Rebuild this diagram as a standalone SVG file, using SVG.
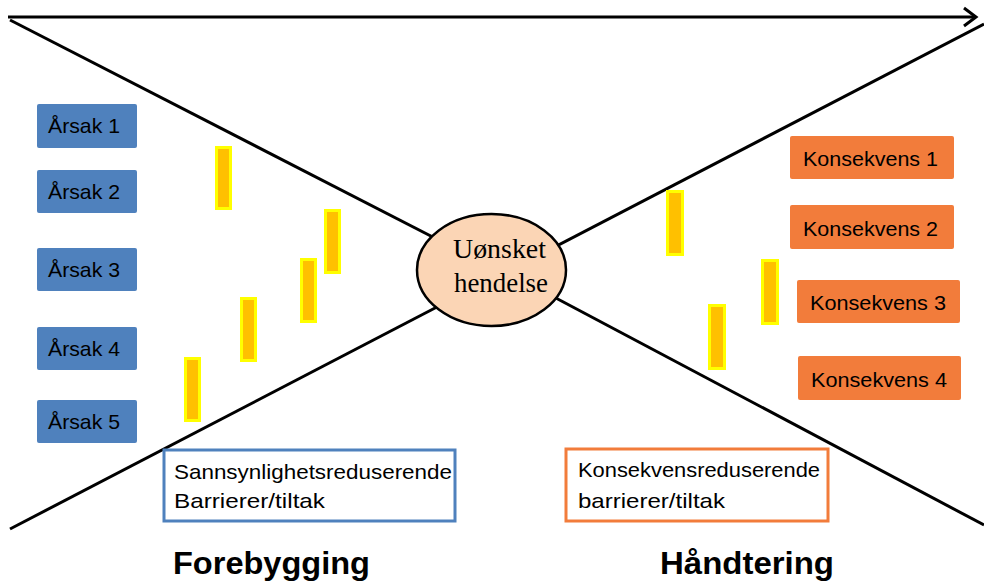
<svg xmlns="http://www.w3.org/2000/svg" width="984" height="585" viewBox="0 0 984 585">
<style>
.ln{stroke:#000;stroke-width:3;fill:none}
.cause rect{fill:#4F81BD}
.cons rect{fill:#F27C3B}
.lbl{font-family:"Liberation Sans",Arial,sans-serif;font-size:21px;fill:#000}
.bar{fill:#FFC000;stroke:#FFFF00;stroke-width:3}
.ttl{font-family:"Liberation Sans",Arial,sans-serif;font-size:31px;font-weight:bold;fill:#000}
.ell{font-family:"Liberation Serif","Times New Roman",serif;font-size:27px;fill:#000}
</style>
<rect width="984" height="585" fill="#fff"/>
<g id="connectors">
<line class="ln" x1="8" y1="17" x2="976" y2="17"/>
<polyline class="ln" points="964,8 976,17 964,26"/>
<line class="ln" x1="10" y1="20" x2="460" y2="251"/>
<line class="ln" x1="10" y1="529" x2="460" y2="295"/>
<line class="ln" x1="984" y1="24" x2="520" y2="265"/>
<line class="ln" x1="984" y1="525" x2="520" y2="279"/>
</g>
<g id="event">
<ellipse cx="491.5" cy="270" rx="74.5" ry="56" fill="#FBD5B5" stroke="#000" stroke-width="2.5"/>
<text class="ell" x="453" y="258" textLength="93" lengthAdjust="spacingAndGlyphs">Uønsket</text>
<text class="ell" x="454" y="292" textLength="94" lengthAdjust="spacingAndGlyphs">hendelse</text>
</g>
<g id="aarsak1" class="cause"><rect x="37" y="104" width="100" height="44" rx="2"/><text class="lbl" x="48" y="133" textLength="72" lengthAdjust="spacingAndGlyphs">Årsak 1</text></g>
<g id="aarsak2" class="cause"><rect x="37" y="170" width="100" height="43" rx="2"/><text class="lbl" x="48" y="199" textLength="72" lengthAdjust="spacingAndGlyphs">Årsak 2</text></g>
<g id="aarsak3" class="cause"><rect x="37" y="248" width="100" height="43" rx="2"/><text class="lbl" x="48" y="277" textLength="72" lengthAdjust="spacingAndGlyphs">Årsak 3</text></g>
<g id="aarsak4" class="cause"><rect x="37" y="327" width="100" height="43" rx="2"/><text class="lbl" x="48" y="356" textLength="72" lengthAdjust="spacingAndGlyphs">Årsak 4</text></g>
<g id="aarsak5" class="cause"><rect x="37" y="400" width="100" height="43" rx="2"/><text class="lbl" x="48" y="429" textLength="72" lengthAdjust="spacingAndGlyphs">Årsak 5</text></g>
<g id="konsekvens1" class="cons"><rect x="790" y="136" width="164" height="43" rx="2"/><text class="lbl" x="803" y="166" textLength="135" lengthAdjust="spacingAndGlyphs">Konsekvens 1</text></g>
<g id="konsekvens2" class="cons"><rect x="790" y="205" width="164" height="44" rx="2"/><text class="lbl" x="803" y="236" textLength="135" lengthAdjust="spacingAndGlyphs">Konsekvens 2</text></g>
<g id="konsekvens3" class="cons"><rect x="797" y="280" width="163" height="43" rx="2"/><text class="lbl" x="810" y="310" textLength="136" lengthAdjust="spacingAndGlyphs">Konsekvens 3</text></g>
<g id="konsekvens4" class="cons"><rect x="798" y="356" width="163" height="44" rx="2"/><text class="lbl" x="811" y="387" textLength="136" lengthAdjust="spacingAndGlyphs">Konsekvens 4</text></g>
<g id="barriers">
<rect class="bar" x="216.5" y="147.5" width="14" height="61"/>
<rect class="bar" x="325.5" y="210.5" width="14" height="62"/>
<rect class="bar" x="301.5" y="259.5" width="14" height="62"/>
<rect class="bar" x="241.5" y="298.5" width="14" height="62"/>
<rect class="bar" x="185.5" y="358.5" width="14" height="62"/>
<rect class="bar" x="667.5" y="191.5" width="15" height="63"/>
<rect class="bar" x="762.5" y="260.5" width="15" height="63"/>
<rect class="bar" x="709.5" y="305.5" width="15" height="63"/>
</g>
<g id="prevent-box">
<rect x="164" y="450" width="291" height="71" fill="#fff" stroke="#4F81BD" stroke-width="3"/>
<text class="lbl" x="174" y="479" textLength="278" lengthAdjust="spacingAndGlyphs">Sannsynlighetsreduserende</text>
<text class="lbl" x="174" y="508" textLength="151" lengthAdjust="spacingAndGlyphs">Barrierer/tiltak</text>
</g>
<g id="mitigate-box">
<rect x="566" y="449" width="262" height="72" fill="#fff" stroke="#F27C3B" stroke-width="3"/>
<text class="lbl" x="578" y="477" textLength="242" lengthAdjust="spacingAndGlyphs">Konsekvensreduserende</text>
<text class="lbl" x="578" y="508" textLength="147" lengthAdjust="spacingAndGlyphs">barrierer/tiltak</text>
</g>
<g id="titles">
<text class="ttl" x="173" y="574" textLength="197" lengthAdjust="spacingAndGlyphs">Forebygging</text>
<text class="ttl" x="660" y="574" textLength="174" lengthAdjust="spacingAndGlyphs">Håndtering</text>
</g>
</svg>
